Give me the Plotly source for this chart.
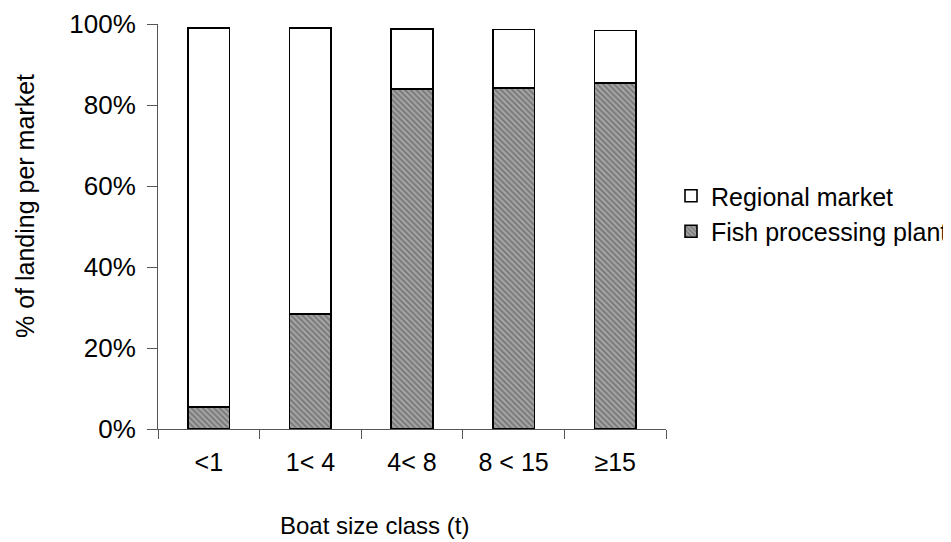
import plotly.graph_objects as go

categories = ["<1", "1< 4", "4< 8", "8 < 15", "\u226515"]
fish_plant = [5.4, 28.4, 84.0, 84.2, 85.4]
regional = [93.6, 70.6, 14.8, 14.4, 13.0]
y_ticks = [0, 20, 40, 60, 80, 100]
y_tick_labels = ["0%", "20%", "40%", "60%", "80%", "100%"]

FONT = "Liberation Sans, Arial, sans-serif"

L, R, T, B = 150, 658, 16, 421
W, H = 951, 542

fig = go.Figure()
fig.add_trace(go.Bar(
    x=categories, y=fish_plant, name="Fish processing plant",
    width=0.41,
    marker=dict(color="#999999", line=dict(color="black", width=1.6),
                pattern=dict(shape="\\", fgcolor="#444444", bgcolor="#a4a4a4",
                             size=4, solidity=0.42)),
))
fig.add_trace(go.Bar(
    x=categories, y=regional, name="Regional market",
    width=0.41,
    marker=dict(color="white", line=dict(color="black", width=1.6)),
))

fig.update_layout(
    width=W, height=H,
    barmode="stack",
    paper_bgcolor="white", plot_bgcolor="white",
    margin=dict(l=L, r=W - R, t=T, b=H - B, autoexpand=False),
    font=dict(family=FONT, size=25, color="black"),
    showlegend=True,
    legend=dict(x=(663 - L) / (R - L), y=(B - 165) / (B - T),
                xanchor="left", yanchor="top",
                font=dict(size=25), bgcolor="rgba(0,0,0,0)",
                itemwidth=30),
    xaxis=dict(
        type="category", tickson="boundaries", ticks="outside", ticklen=9,
        tickcolor="#555", linecolor="#555", linewidth=1, showline=True,
        showgrid=False, ticklabelstandoff=11,
        tickfont=dict(size=25),
    ),
    yaxis=dict(
        range=[0, 100], tickvals=y_ticks, ticktext=y_tick_labels,
        ticks="outside", ticklen=10, tickcolor="#555", showline=True,
        linecolor="#555", linewidth=1, showgrid=False, zeroline=False,
        ticklabelstandoff=6, tickfont=dict(size=26),
    ),
    yaxis2=dict(
        range=[0, 100], tickvals=y_ticks, ticks="inside", ticklen=10,
        tickcolor="#555", showticklabels=False, showline=False,
        showgrid=False, zeroline=False, overlaying="y", anchor="x", side="left",
    ),
)

fig.add_annotation(
    text="Boat size class (t)", xref="paper", yref="paper",
    x=(270 - L) / (R - L), y=-(517 - B) / (B - T), xanchor="left", yanchor="middle",
    showarrow=False, font=dict(size=24, family=FONT, color="black"),
)
fig.add_annotation(
    text="% of landing per market", xref="paper", yref="paper",
    x=-(L - 17) / (R - L), y=(B - 198) / (B - T), xanchor="center", yanchor="middle",
    textangle=-90, showarrow=False, font=dict(size=25, family=FONT, color="black"),
)

fig.write_html("out.html")
